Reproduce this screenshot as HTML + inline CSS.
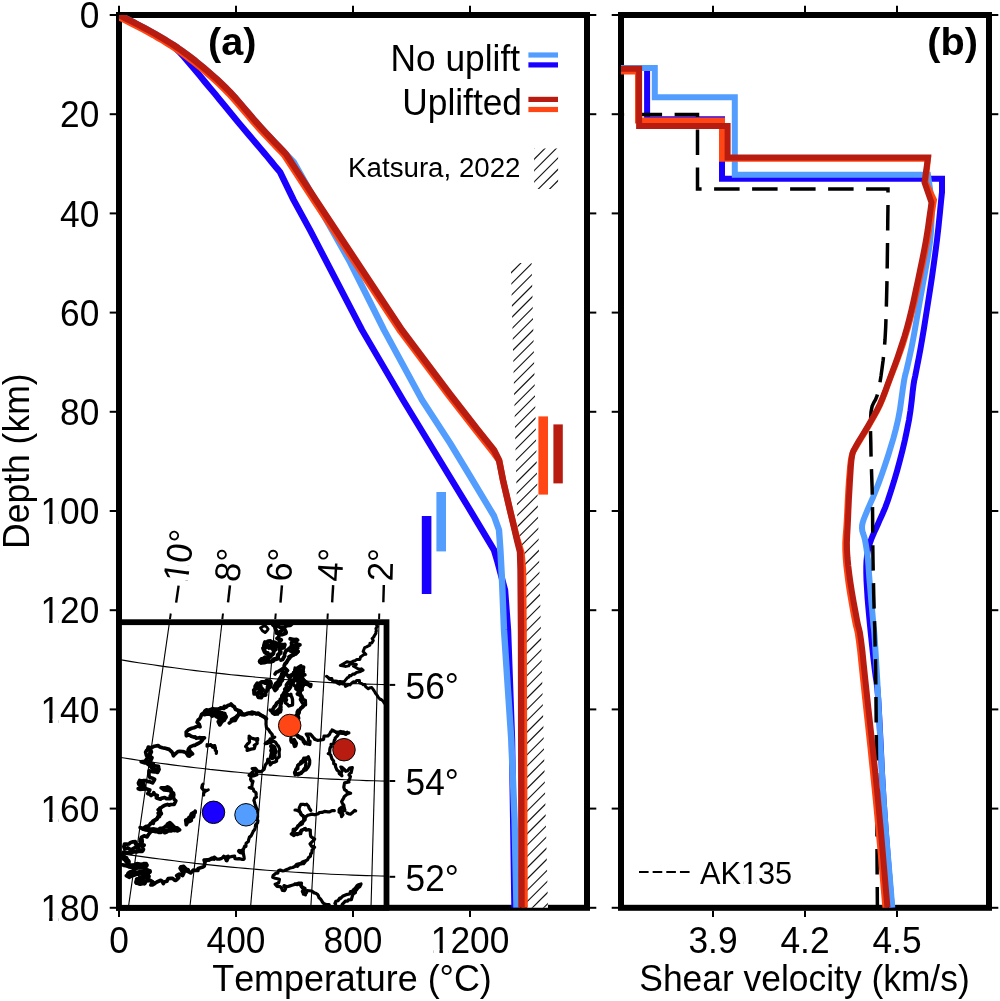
<!DOCTYPE html>
<html><head><meta charset="utf-8"><title>Figure</title>
<style>html,body{margin:0;padding:0;background:#fff;width:1000px;height:1001px;overflow:hidden}body{position:relative;font-family:"Liberation Sans",sans-serif}</style>
</head><body>
<svg width="1000" height="1001" viewBox="0 0 1000 1001" style="position:absolute;left:0;top:0;will-change:transform;font-family:'Liberation Sans',sans-serif">
<rect x="0" y="0" width="1000" height="1001" fill="#fff"/>
<defs>
<clipPath id="ca"><rect x="119.0" y="15.0" width="468.0" height="892.8"/></clipPath>
<clipPath id="cb"><rect x="621.0" y="15.0" width="368.0" height="892.8"/></clipPath>
<clipPath id="cband"><polygon points="510.8,263.0 531.6,263.0 548.0,907.8 527.2,907.8"/></clipPath>
<clipPath id="csw"><rect x="534.1" y="148.5" width="24" height="40.5"/></clipPath>
</defs>
<rect x="119.0" y="15.0" width="468.0" height="892.8" fill="none" stroke="#000" stroke-width="6.0"/>
<rect x="621.0" y="15.0" width="368.0" height="892.8" fill="none" stroke="#000" stroke-width="6.0"/>
<g stroke="#000" stroke-width="2.0">
<line x1="116.0" y1="15.0" x2="109.7" y2="15.0"/>
<line x1="590.0" y1="15.0" x2="596.3" y2="15.0"/>
<line x1="618.0" y1="15.0" x2="611.7" y2="15.0"/>
<line x1="992.0" y1="15.0" x2="998.3" y2="15.0"/>
<line x1="116.0" y1="114.2" x2="109.7" y2="114.2"/>
<line x1="590.0" y1="114.2" x2="596.3" y2="114.2"/>
<line x1="618.0" y1="114.2" x2="611.7" y2="114.2"/>
<line x1="992.0" y1="114.2" x2="998.3" y2="114.2"/>
<line x1="116.0" y1="213.4" x2="109.7" y2="213.4"/>
<line x1="590.0" y1="213.4" x2="596.3" y2="213.4"/>
<line x1="618.0" y1="213.4" x2="611.7" y2="213.4"/>
<line x1="992.0" y1="213.4" x2="998.3" y2="213.4"/>
<line x1="116.0" y1="312.6" x2="109.7" y2="312.6"/>
<line x1="590.0" y1="312.6" x2="596.3" y2="312.6"/>
<line x1="618.0" y1="312.6" x2="611.7" y2="312.6"/>
<line x1="992.0" y1="312.6" x2="998.3" y2="312.6"/>
<line x1="116.0" y1="411.8" x2="109.7" y2="411.8"/>
<line x1="590.0" y1="411.8" x2="596.3" y2="411.8"/>
<line x1="618.0" y1="411.8" x2="611.7" y2="411.8"/>
<line x1="992.0" y1="411.8" x2="998.3" y2="411.8"/>
<line x1="116.0" y1="511.0" x2="109.7" y2="511.0"/>
<line x1="590.0" y1="511.0" x2="596.3" y2="511.0"/>
<line x1="618.0" y1="511.0" x2="611.7" y2="511.0"/>
<line x1="992.0" y1="511.0" x2="998.3" y2="511.0"/>
<line x1="116.0" y1="610.2" x2="109.7" y2="610.2"/>
<line x1="590.0" y1="610.2" x2="596.3" y2="610.2"/>
<line x1="618.0" y1="610.2" x2="611.7" y2="610.2"/>
<line x1="992.0" y1="610.2" x2="998.3" y2="610.2"/>
<line x1="116.0" y1="709.4" x2="109.7" y2="709.4"/>
<line x1="590.0" y1="709.4" x2="596.3" y2="709.4"/>
<line x1="618.0" y1="709.4" x2="611.7" y2="709.4"/>
<line x1="992.0" y1="709.4" x2="998.3" y2="709.4"/>
<line x1="116.0" y1="808.6" x2="109.7" y2="808.6"/>
<line x1="590.0" y1="808.6" x2="596.3" y2="808.6"/>
<line x1="618.0" y1="808.6" x2="611.7" y2="808.6"/>
<line x1="992.0" y1="808.6" x2="998.3" y2="808.6"/>
<line x1="116.0" y1="907.8" x2="109.7" y2="907.8"/>
<line x1="590.0" y1="907.8" x2="596.3" y2="907.8"/>
<line x1="618.0" y1="907.8" x2="611.7" y2="907.8"/>
<line x1="992.0" y1="907.8" x2="998.3" y2="907.8"/>
<line x1="119.0" y1="12.0" x2="119.0" y2="5.7"/>
<line x1="119.0" y1="910.8" x2="119.0" y2="917.1"/>
<line x1="236.0" y1="12.0" x2="236.0" y2="5.7"/>
<line x1="236.0" y1="910.8" x2="236.0" y2="917.1"/>
<line x1="353.0" y1="12.0" x2="353.0" y2="5.7"/>
<line x1="353.0" y1="910.8" x2="353.0" y2="917.1"/>
<line x1="470.0" y1="12.0" x2="470.0" y2="5.7"/>
<line x1="470.0" y1="910.8" x2="470.0" y2="917.1"/>
<line x1="713.0" y1="12.0" x2="713.0" y2="5.7"/>
<line x1="713.0" y1="910.8" x2="713.0" y2="917.1"/>
<line x1="805.0" y1="12.0" x2="805.0" y2="5.7"/>
<line x1="805.0" y1="910.8" x2="805.0" y2="917.1"/>
<line x1="897.0" y1="12.0" x2="897.0" y2="5.7"/>
<line x1="897.0" y1="910.8" x2="897.0" y2="917.1"/>
</g>
<polygon points="510.8,263.0 531.6,263.0 548.0,907.8 527.2,907.8" fill="#fff"/>
<g clip-path="url(#cband)" stroke="#111" stroke-width="1.12" stroke-linecap="butt">
<line x1="503.00" y1="235.65" x2="554.00" y2="184.65"/>
<line x1="503.00" y1="246.97" x2="554.00" y2="195.97"/>
<line x1="503.00" y1="258.28" x2="554.00" y2="207.28"/>
<line x1="503.00" y1="269.60" x2="554.00" y2="218.60"/>
<line x1="503.00" y1="280.91" x2="554.00" y2="229.91"/>
<line x1="503.00" y1="292.22" x2="554.00" y2="241.22"/>
<line x1="503.00" y1="303.54" x2="554.00" y2="252.54"/>
<line x1="503.00" y1="314.85" x2="554.00" y2="263.85"/>
<line x1="503.00" y1="326.16" x2="554.00" y2="275.16"/>
<line x1="503.00" y1="337.48" x2="554.00" y2="286.48"/>
<line x1="503.00" y1="348.79" x2="554.00" y2="297.79"/>
<line x1="503.00" y1="360.11" x2="554.00" y2="309.11"/>
<line x1="503.00" y1="371.42" x2="554.00" y2="320.42"/>
<line x1="503.00" y1="382.73" x2="554.00" y2="331.73"/>
<line x1="503.00" y1="394.05" x2="554.00" y2="343.05"/>
<line x1="503.00" y1="405.36" x2="554.00" y2="354.36"/>
<line x1="503.00" y1="416.67" x2="554.00" y2="365.67"/>
<line x1="503.00" y1="427.99" x2="554.00" y2="376.99"/>
<line x1="503.00" y1="439.30" x2="554.00" y2="388.30"/>
<line x1="503.00" y1="450.62" x2="554.00" y2="399.62"/>
<line x1="503.00" y1="461.93" x2="554.00" y2="410.93"/>
<line x1="503.00" y1="473.24" x2="554.00" y2="422.24"/>
<line x1="503.00" y1="484.56" x2="554.00" y2="433.56"/>
<line x1="503.00" y1="495.87" x2="554.00" y2="444.87"/>
<line x1="503.00" y1="507.18" x2="554.00" y2="456.18"/>
<line x1="503.00" y1="518.50" x2="554.00" y2="467.50"/>
<line x1="503.00" y1="529.81" x2="554.00" y2="478.81"/>
<line x1="503.00" y1="541.12" x2="554.00" y2="490.12"/>
<line x1="503.00" y1="552.44" x2="554.00" y2="501.44"/>
<line x1="503.00" y1="563.75" x2="554.00" y2="512.75"/>
<line x1="503.00" y1="575.07" x2="554.00" y2="524.07"/>
<line x1="503.00" y1="586.38" x2="554.00" y2="535.38"/>
<line x1="503.00" y1="597.69" x2="554.00" y2="546.69"/>
<line x1="503.00" y1="609.01" x2="554.00" y2="558.01"/>
<line x1="503.00" y1="620.32" x2="554.00" y2="569.32"/>
<line x1="503.00" y1="631.63" x2="554.00" y2="580.63"/>
<line x1="503.00" y1="642.95" x2="554.00" y2="591.95"/>
<line x1="503.00" y1="654.26" x2="554.00" y2="603.26"/>
<line x1="503.00" y1="665.58" x2="554.00" y2="614.58"/>
<line x1="503.00" y1="676.89" x2="554.00" y2="625.89"/>
<line x1="503.00" y1="688.20" x2="554.00" y2="637.20"/>
<line x1="503.00" y1="699.52" x2="554.00" y2="648.52"/>
<line x1="503.00" y1="710.83" x2="554.00" y2="659.83"/>
<line x1="503.00" y1="722.14" x2="554.00" y2="671.14"/>
<line x1="503.00" y1="733.46" x2="554.00" y2="682.46"/>
<line x1="503.00" y1="744.77" x2="554.00" y2="693.77"/>
<line x1="503.00" y1="756.09" x2="554.00" y2="705.09"/>
<line x1="503.00" y1="767.40" x2="554.00" y2="716.40"/>
<line x1="503.00" y1="778.71" x2="554.00" y2="727.71"/>
<line x1="503.00" y1="790.03" x2="554.00" y2="739.03"/>
<line x1="503.00" y1="801.34" x2="554.00" y2="750.34"/>
<line x1="503.00" y1="812.65" x2="554.00" y2="761.65"/>
<line x1="503.00" y1="823.97" x2="554.00" y2="772.97"/>
<line x1="503.00" y1="835.28" x2="554.00" y2="784.28"/>
<line x1="503.00" y1="846.60" x2="554.00" y2="795.60"/>
<line x1="503.00" y1="857.91" x2="554.00" y2="806.91"/>
<line x1="503.00" y1="869.22" x2="554.00" y2="818.22"/>
<line x1="503.00" y1="880.54" x2="554.00" y2="829.54"/>
<line x1="503.00" y1="891.85" x2="554.00" y2="840.85"/>
<line x1="503.00" y1="903.16" x2="554.00" y2="852.16"/>
<line x1="503.00" y1="914.48" x2="554.00" y2="863.48"/>
<line x1="503.00" y1="925.79" x2="554.00" y2="874.79"/>
<line x1="503.00" y1="937.10" x2="554.00" y2="886.10"/>
<line x1="503.00" y1="948.42" x2="554.00" y2="897.42"/>
<line x1="503.00" y1="959.73" x2="554.00" y2="908.73"/>
<line x1="503.00" y1="971.05" x2="554.00" y2="920.05"/>
<line x1="503.00" y1="982.36" x2="554.00" y2="931.36"/>
</g>
<g clip-path="url(#csw)" stroke="#111" stroke-width="1.12" stroke-linecap="butt">
<line x1="528.00" y1="131.46" x2="564.00" y2="95.46"/>
<line x1="528.00" y1="142.77" x2="564.00" y2="106.77"/>
<line x1="528.00" y1="154.09" x2="564.00" y2="118.09"/>
<line x1="528.00" y1="165.40" x2="564.00" y2="129.40"/>
<line x1="528.00" y1="176.71" x2="564.00" y2="140.71"/>
<line x1="528.00" y1="188.03" x2="564.00" y2="152.03"/>
<line x1="528.00" y1="199.34" x2="564.00" y2="163.34"/>
<line x1="528.00" y1="210.65" x2="564.00" y2="174.65"/>
<line x1="528.00" y1="221.97" x2="564.00" y2="185.97"/>
<line x1="528.00" y1="233.28" x2="564.00" y2="197.28"/>
<line x1="528.00" y1="244.60" x2="564.00" y2="208.60"/>
</g>
<rect x="538.4" y="416.4" width="9.6" height="78.2" fill="#ff4614"/>
<rect x="553.4" y="424.4" width="9.4" height="59.0" fill="#b81c10"/>
<rect x="436.4" y="492.0" width="9.6" height="59.4" fill="#539dff"/>
<rect x="421.8" y="516.0" width="9.6" height="78.0" fill="#1a00ff"/>
<g clip-path="url(#ca)">
<polyline points="119.0,15.0 122.5,16.9 127.5,19.5 133.4,22.5 139.5,25.8 145.2,28.8 150.0,31.5 153.8,33.7 157.2,35.8 160.2,37.7 162.9,39.5 165.5,41.3 168.0,43.0 170.1,44.4 171.8,45.4 173.2,46.2 174.9,47.5 177.0,49.4 180.0,52.5 184.0,56.9 188.7,62.5 194.0,68.7 199.5,75.3 204.9,81.9 210.0,88.0 214.9,93.8 219.7,99.7 224.5,105.6 229.2,111.3 233.7,116.8 238.0,122.0 242.0,126.8 245.9,131.3 249.5,135.6 253.0,139.8 256.5,143.9 260.0,148.0 263.7,152.4 267.6,157.0 271.4,161.6 274.9,165.9 277.8,169.4 280.0,172.0 293.6,200.0 310.0,230.0 362.0,330.0 403.0,400.0 470.0,510.0 494.0,550.0 497.0,560.0 501.0,575.0 505.0,590.0 508.0,630.0 512.0,740.0 514.5,907.8" fill="none" stroke="#1a00ff" stroke-width="6.40" stroke-linejoin="miter" stroke-linecap="butt" style="stroke-linejoin:round"/>
<polyline points="119.0,15.0 122.4,16.7 127.1,19.1 132.8,21.9 138.7,25.0 144.6,28.1 150.0,31.0 154.9,33.7 159.6,36.5 164.3,39.2 168.9,42.1 173.5,45.0 178.0,48.0 182.4,51.1 186.8,54.3 191.1,57.6 195.4,60.9 199.7,64.4 204.0,68.0 208.3,71.6 212.5,75.3 216.8,79.1 221.0,83.1 225.4,87.4 230.0,92.0 234.8,97.2 239.9,103.0 245.0,109.0 250.2,115.1 255.2,121.0 260.0,126.4 264.8,131.7 269.8,137.0 274.7,142.2 279.1,146.8 282.9,150.7 285.6,153.6 294.0,162.5 350.0,262.0 384.0,330.0 422.0,400.0 450.0,443.0 470.0,476.0 494.0,516.0 499.0,530.0 500.4,550.0 502.0,580.0 504.0,630.0 511.3,740.0 514.6,820.0 516.5,907.8" fill="none" stroke="#539dff" stroke-width="6.40" stroke-linejoin="miter" stroke-linecap="butt" style="stroke-linejoin:round"/>
<polyline points="119.0,15.0 120.9,18.1 125.6,20.5 131.2,23.3 137.2,26.4 143.1,29.5 148.5,32.4 153.4,35.1 158.1,37.9 162.8,40.6 167.4,43.5 172.0,46.4 176.5,49.4 180.9,52.5 185.3,55.7 189.6,59.0 193.9,62.3 198.2,65.8 202.5,69.4 206.8,73.0 211.0,76.7 215.2,80.5 219.5,84.5 223.9,88.8 228.5,93.4 233.3,98.6 238.4,104.4 243.5,110.4 248.7,116.5 253.7,122.4 258.5,127.8 263.3,133.1 268.3,138.4 273.2,143.6 277.6,148.2 281.4,152.1 284.1,155.0 314.5,201.4 400.5,331.4 448.5,395.4 476.5,431.4 492.5,451.4 499.3,461.0 503.0,480.5 510.0,510.5 517.5,540.0 521.5,553.0 523.0,570.0 523.6,630.0 524.6,907.8" fill="none" stroke="#ff4614" stroke-width="6.40" stroke-linejoin="miter" stroke-linecap="butt" style="stroke-linejoin:round"/>
<polyline points="119.0,15.0 122.4,16.7 127.1,19.1 132.8,21.9 138.7,25.0 144.6,28.1 150.0,31.0 154.9,33.7 159.6,36.5 164.3,39.2 168.9,42.1 173.5,45.0 178.0,48.0 182.4,51.1 186.8,54.3 191.1,57.6 195.4,60.9 199.7,64.4 204.0,68.0 208.3,71.6 212.5,75.3 216.8,79.1 221.0,83.1 225.4,87.4 230.0,92.0 234.8,97.2 239.9,103.0 245.0,109.0 250.2,115.1 255.2,121.0 260.0,126.4 264.8,131.7 269.8,137.0 274.7,142.2 279.1,146.8 282.9,150.7 285.6,153.6 316.0,200.0 402.0,330.0 450.0,394.0 478.0,430.0 494.0,450.0 499.0,460.0 503.0,480.0 510.0,510.0 517.0,540.0 520.0,552.0 520.5,570.0 521.0,630.0 521.5,907.8" fill="none" stroke="#b81c10" stroke-width="6.40" stroke-linejoin="miter" stroke-linecap="butt" style="stroke-linejoin:round"/>
</g>
<g clip-path="url(#cb)">
<polyline points="621.0,67.9 647.1,67.9 647.1,119.2 722.0,119.2 722.0,178.8 942.0,178.8 942.0,192.0 941.1,200.6 939.9,212.9 938.5,226.7 937.0,240.0 935.4,252.4 933.7,264.9 931.9,277.5 930.0,290.0 928.0,302.9 925.9,316.1 923.9,328.8 922.0,340.0 920.3,349.7 918.7,358.3 917.2,365.8 916.0,372.0 915.2,376.1 914.7,378.3 914.2,380.6 913.5,385.0 912.6,392.1 911.7,400.8 910.5,410.4 909.0,420.0 907.1,429.6 905.0,439.7 902.6,449.9 900.0,460.0 897.2,470.4 894.1,481.0 890.9,491.1 888.0,500.0 885.3,507.3 882.7,513.5 880.2,518.9 878.0,524.0 876.0,528.6 874.1,532.5 872.5,536.2 871.0,540.0 869.7,543.8 868.6,547.5 867.7,551.4 867.0,556.0 866.5,561.1 866.3,566.5 866.3,572.7 866.5,580.0 867.0,588.6 867.6,598.4 868.5,608.9 869.5,620.0 870.7,632.3 872.1,645.6 873.5,658.7 874.8,670.0 875.8,677.3 876.5,681.9 877.3,688.0 878.3,700.0 879.4,719.9 880.7,745.1 882.0,772.8 883.6,800.0 885.6,828.9 888.0,860.1 890.3,888.2 891.8,907.8" fill="none" stroke="#1a00ff" stroke-width="6.00" stroke-linejoin="miter" stroke-linecap="butt" />
<polyline points="621.0,67.9 654.8,67.9 654.8,97.2 734.8,97.2 734.8,174.8 928.0,174.8 932.0,203.0 931.8,209.6 931.6,218.9 931.1,230.0 930.0,242.0 928.0,255.6 925.3,270.9 922.5,286.3 920.0,300.0 918.0,311.5 916.2,321.9 914.6,331.3 913.0,340.0 911.4,348.2 909.8,355.7 908.3,362.3 907.0,368.0 906.1,371.7 905.5,373.8 904.9,376.3 904.0,381.0 902.8,389.0 901.4,399.1 899.9,409.9 898.0,420.0 895.8,429.3 893.4,438.3 890.7,447.2 888.0,456.0 885.1,464.8 882.1,473.6 879.0,482.1 876.0,490.0 873.0,497.4 869.9,504.4 867.2,510.7 865.0,516.0 863.5,520.0 862.6,522.9 862.1,525.3 862.0,528.0 862.3,530.8 863.1,533.5 864.1,536.4 865.0,540.0 865.8,544.4 866.6,549.5 867.4,554.8 868.0,560.0 868.4,564.5 868.7,568.8 869.0,573.6 869.5,580.0 870.3,589.1 871.2,600.0 872.2,610.9 873.0,620.0 873.5,625.5 873.9,628.8 874.3,632.7 874.8,640.0 875.5,651.2 876.3,665.0 877.3,681.2 878.3,700.0 879.4,722.0 880.6,747.0 882.0,773.5 883.6,800.0 885.7,828.9 888.3,860.1 890.7,888.2 892.3,907.8" fill="none" stroke="#539dff" stroke-width="6.00" stroke-linejoin="miter" stroke-linecap="butt" />
<polyline points="621.0,114.5 697.5,114.5 697.5,189.0 888.0,189.0 888.0,204.0 887.8,218.0 887.6,238.2 887.3,260.3 887.0,280.0 886.6,296.7 886.2,312.5 885.7,327.1 885.0,340.0 884.1,351.1 883.1,360.5 882.0,368.7 881.0,376.0 880.0,382.2 879.1,387.2 878.1,391.7 877.0,396.0 875.5,399.7 873.8,402.6 872.1,406.3 871.0,412.0 870.5,420.6 870.5,431.1 870.8,442.6 871.0,454.0 871.3,464.9 871.7,475.9 872.1,487.4 872.4,500.0 872.6,514.4 872.7,530.1 872.8,545.8 873.0,560.0 873.2,572.3 873.5,583.5 873.7,593.9 874.0,604.0 874.2,613.0 874.5,621.0 874.8,629.5 875.0,640.0 875.2,649.8 875.5,659.3 875.7,674.0 876.0,700.0 876.4,746.4 876.8,807.6 877.1,867.0 877.4,907.8" fill="none" stroke="#000" stroke-width="3.50" stroke-linejoin="miter" stroke-linecap="butt" stroke-dasharray="25.5 12.5" stroke-dashoffset="22.4"/>
<polyline points="621.0,71.6 638.0,71.6 638.0,120.4 722.0,120.4 722.0,158.8 928.0,158.8 925.5,182.0 934.0,200.0 932.8,207.2 931.2,217.5 929.2,229.1 927.3,240.0 925.4,250.0 923.4,260.0 921.3,270.0 919.2,280.0 917.0,290.2 914.7,300.6 912.3,310.6 910.0,320.0 907.7,328.5 905.3,336.2 903.0,343.7 900.5,351.0 897.9,358.3 895.3,365.3 892.6,372.2 890.0,379.0 887.5,385.7 885.1,392.4 882.6,398.8 880.0,405.0 877.1,410.8 874.1,416.4 871.0,421.7 868.0,427.0 864.8,432.4 861.5,437.8 858.5,442.8 856.0,447.0 854.3,449.9 853.2,451.8 852.3,453.8 851.5,457.0 850.7,461.4 850.1,466.6 849.6,472.8 849.0,480.0 848.4,489.0 847.8,499.6 847.3,510.3 846.8,520.0 846.3,528.1 845.7,535.4 845.3,542.5 845.3,550.0 845.7,557.9 846.4,566.1 847.4,574.4 848.5,583.0 849.9,592.4 851.6,602.3 853.3,611.9 854.8,620.0 855.9,625.3 856.8,628.6 857.7,632.6 858.8,640.0 860.2,651.2 861.6,665.0 863.3,681.2 865.3,700.0 867.7,722.0 870.4,747.0 873.1,773.5 875.8,800.0 878.5,828.9 881.3,860.1 883.7,888.2 885.4,907.8" fill="none" stroke="#ff4614" stroke-width="6.00" stroke-linejoin="miter" stroke-linecap="butt" />
<polyline points="621.0,68.7 639.1,68.7 639.1,126.0 727.6,126.0 727.6,157.5 928.0,157.5 924.5,182.5 931.5,202.5 930.6,209.2 929.2,218.8 927.7,229.6 926.0,240.0 924.2,249.8 922.2,259.8 920.1,269.9 918.0,280.0 915.8,290.2 913.6,300.6 911.3,310.7 909.0,320.0 906.8,328.2 904.6,335.8 902.3,342.9 900.0,350.0 897.6,357.2 895.1,364.2 892.5,371.2 890.0,378.0 887.5,384.7 885.1,391.4 882.6,397.8 880.0,404.0 877.1,409.8 874.1,415.4 871.0,420.7 868.0,426.0 864.8,431.4 861.5,436.8 858.4,441.8 856.0,446.0 854.4,448.9 853.4,450.8 852.7,452.8 852.0,456.0 851.4,460.6 850.9,466.1 850.5,472.5 850.0,480.0 849.5,489.1 848.9,499.6 848.4,510.3 848.0,520.0 847.6,528.1 847.2,535.4 846.9,542.5 847.0,550.0 847.5,557.9 848.3,566.1 849.3,574.4 850.5,583.0 852.0,592.4 853.7,602.3 855.5,611.9 857.0,620.0 858.1,625.3 859.0,628.6 859.9,632.6 861.0,640.0 862.4,651.2 863.8,665.0 865.5,681.2 867.5,700.0 869.9,722.0 872.6,747.0 875.4,773.5 878.0,800.0 880.7,828.9 883.4,860.1 885.8,888.2 887.5,907.8" fill="none" stroke="#b81c10" stroke-width="6.00" stroke-linejoin="miter" stroke-linecap="butt" />
</g>
<g>
<rect x="119.0" y="622.2" width="267.5" height="285.6" fill="#fff"/>
<clipPath id="cmap"><rect x="119.0" y="622.2" width="267.5" height="285.6"/></clipPath>
<g clip-path="url(#cmap)">
<line x1="169.50" y1="622.20" x2="128.30" y2="907.80" stroke="#000" stroke-width="1.1"/>
<line x1="222.00" y1="622.20" x2="189.80" y2="907.80" stroke="#000" stroke-width="1.1"/>
<line x1="275.00" y1="622.20" x2="250.50" y2="907.80" stroke="#000" stroke-width="1.1"/>
<line x1="327.30" y1="622.20" x2="310.80" y2="907.80" stroke="#000" stroke-width="1.1"/>
<line x1="379.00" y1="622.20" x2="371.00" y2="907.80" stroke="#000" stroke-width="1.1"/>
<polyline points="110.0,658.0 117.1,659.2 124.2,660.4 131.4,661.6 138.5,662.7 145.6,663.8 152.8,664.8 159.9,665.9 167.0,666.9 174.1,667.8 181.2,668.8 188.4,669.7 195.5,670.6 202.6,671.5 209.8,672.3 216.9,673.1 224.0,673.9 231.1,674.7 238.2,675.4 245.4,676.1 252.5,676.8 259.6,677.5 266.8,678.1 273.9,678.7 281.0,679.3 288.1,679.8 295.2,680.4 302.4,680.8 309.5,681.3 316.6,681.8 323.8,682.2 330.9,682.6 338.0,682.9 345.1,683.3 352.2,683.6 359.4,683.8 366.5,684.1 373.6,684.3 380.8,684.5 387.9,684.7 395.0,684.9" fill="none" stroke="#000" stroke-width="1.1"/>
<polyline points="110.0,755.8 117.1,756.9 124.2,758.0 131.4,759.1 138.5,760.2 145.6,761.2 152.8,762.2 159.9,763.2 167.0,764.1 174.1,765.1 181.2,766.0 188.4,766.9 195.5,767.7 202.6,768.5 209.8,769.4 216.9,770.1 224.0,770.9 231.1,771.6 238.2,772.3 245.4,773.0 252.5,773.6 259.6,774.3 266.8,774.9 273.9,775.4 281.0,776.0 288.1,776.5 295.2,777.0 302.4,777.5 309.5,777.9 316.6,778.3 323.8,778.7 330.9,779.1 338.0,779.4 345.1,779.7 352.2,780.0 359.4,780.3 366.5,780.6 373.6,780.8 380.8,781.0 387.9,781.1 395.0,781.3" fill="none" stroke="#000" stroke-width="1.1"/>
<polyline points="110.0,851.9 117.1,853.0 124.2,854.1 131.4,855.1 138.5,856.1 145.6,857.1 152.8,858.1 159.9,859.0 167.0,859.9 174.1,860.8 181.2,861.7 188.4,862.5 195.5,863.4 202.6,864.1 209.8,864.9 216.9,865.6 224.0,866.4 231.1,867.1 238.2,867.7 245.4,868.4 252.5,869.0 259.6,869.6 266.8,870.2 273.9,870.7 281.0,871.2 288.1,871.7 295.2,872.2 302.4,872.6 309.5,873.1 316.6,873.5 323.8,873.8 330.9,874.2 338.0,874.5 345.1,874.8 352.2,875.1 359.4,875.4 366.5,875.6 373.6,875.8 380.8,876.0 387.9,876.2 395.0,876.3" fill="none" stroke="#000" stroke-width="1.1"/>
<polyline points="260.5,628.0 262.4,626.6 265.3,625.7 267.1,627.5 268.2,629.0 267.1,630.6 266.2,631.7 265.1,632.6 262.8,631.0 262.2,630.6 260.6,627.8" fill="none" stroke="#000" stroke-width="2.83" stroke-linejoin="round" stroke-linecap="round"/>
<polyline points="273.0,625.0 274.9,626.6 276.7,626.4 277.3,625.3 279.6,627.1 281.4,627.2 284.3,627.3 286.1,626.0 287.2,625.6 290.3,625.4 291.6,624.2" fill="none" stroke="#000" stroke-width="3.86" stroke-linejoin="round" stroke-linecap="round"/>
<polyline points="275.0,628.0 275.6,629.3 276.9,631.7 276.5,633.1 279.0,632.7 281.4,630.6 283.9,629.3 284.8,629.5 285.3,630.5 286.1,632.3 286.0,633.1 284.7,633.6 281.9,634.7 279.2,634.9 278.6,637.3 277.0,638.3 278.2,638.9 281.3,639.9 279.6,641.1" fill="none" stroke="#000" stroke-width="3.86" stroke-linejoin="round" stroke-linecap="round"/>
<polyline points="265.0,643.0 266.8,642.6 268.1,641.4 270.4,641.3 272.2,643.0 274.3,642.5 276.8,644.0 278.2,643.6 281.1,644.7 283.6,645.2 284.6,644.8 283.7,647.2 283.9,647.3 279.4,648.5 280.5,652.0 280.2,653.0 278.1,654.8 277.8,656.6 277.9,658.4 275.5,659.2 274.3,659.2 272.8,661.0 270.7,661.6 267.3,661.3 264.2,662.3 261.2,662.7 259.9,661.4 261.7,659.1 263.6,658.8 266.2,658.7 267.6,658.7 270.2,656.3 268.5,655.2 267.7,653.3 267.2,653.9 264.9,652.0 263.2,648.2 265.2,647.6 267.6,646.4 264.1,645.9 265.1,642.3" fill="none" stroke="#000" stroke-width="4.38" stroke-linejoin="round" stroke-linecap="round"/>
<polyline points="269.0,648.0 271.1,647.4 273.1,649.6 275.7,649.4 274.0,650.7 273.4,653.5 272.6,654.5 270.7,654.5" fill="none" stroke="#000" stroke-width="3.86" stroke-linejoin="round" stroke-linecap="round"/>
<polyline points="281.0,660.0 282.6,659.4 283.7,657.6 284.6,656.0 284.5,654.0 285.7,651.6 286.1,650.6 287.5,649.9 289.9,647.9 290.8,647.4 291.9,644.7 291.5,643.0 292.4,641.4 294.7,641.5 296.6,639.5 293.8,639.6 290.2,638.8 294.8,640.0 295.7,640.8 295.9,642.8 297.4,644.2 299.9,644.8 296.8,646.3 295.4,645.4 292.8,646.8 292.8,649.6 293.3,649.3 296.9,648.6 297.7,648.1 296.3,648.7 296.9,651.6 295.1,653.8 293.6,655.0 293.1,655.0 290.8,656.4 289.5,658.2 288.0,659.8 286.3,662.8 285.2,663.4 284.2,665.8" fill="none" stroke="#000" stroke-width="3.86" stroke-linejoin="round" stroke-linecap="round"/>
<polyline points="290.0,651.0 291.8,651.8 294.0,651.1 296.0,650.6 297.9,651.4" fill="none" stroke="#000" stroke-width="3.35" stroke-linejoin="round" stroke-linecap="round"/>
<polyline points="285.0,674.0 283.1,676.6 282.4,677.9 282.4,680.1 280.7,682.0 280.1,684.5 278.3,686.1 277.2,686.9 276.9,688.7 275.1,690.5 273.8,687.9 274.2,686.5 275.0,685.4 275.9,683.6 277.0,682.8 278.4,681.2 279.8,678.5 280.1,678.3 281.6,675.3 281.8,673.9 283.2,671.5 284.2,674.3" fill="none" stroke="#000" stroke-width="3.86" stroke-linejoin="round" stroke-linecap="round"/>
<polyline points="254.0,690.0 255.5,688.8 255.3,686.4 257.3,683.3 259.4,684.2 259.8,683.5 261.8,682.0 265.4,682.1 266.4,680.9 269.0,681.2 270.4,681.7 270.9,683.6 270.1,686.9 267.6,688.2 267.2,690.0 265.2,692.9 265.5,694.9 262.7,695.1 261.1,697.5 258.6,697.3 257.9,695.8 257.1,693.5 254.3,693.8 254.1,690.4" fill="none" stroke="#000" stroke-width="4.12" stroke-linejoin="round" stroke-linecap="round"/>
<polyline points="261.0,686.0 261.2,687.2 263.4,689.9 261.2,692.3 261.3,693.6" fill="none" stroke="#000" stroke-width="3.35" stroke-linejoin="round" stroke-linecap="round"/>
<polyline points="301.0,666.0 298.2,667.7 296.8,669.4 296.2,670.0 295.1,672.8 293.6,672.8 293.1,674.5 291.3,675.9 290.1,677.4 289.8,679.2 289.9,680.8 288.6,682.2 287.5,683.5 286.5,685.1 286.6,687.7 284.8,689.2 285.4,690.1 284.4,692.3 283.0,694.6 282.0,695.6 281.8,698.1 280.3,699.4 280.2,700.7 278.8,701.7 276.8,703.0 275.5,705.8 274.5,706.4 272.7,709.6 272.7,711.3 273.6,712.5 275.6,711.9 277.3,710.9 278.6,709.9 280.9,707.1 280.3,706.1 281.2,703.1 281.5,701.4 283.2,699.8 283.4,698.0 283.9,696.0 284.8,694.6 285.5,692.3 286.8,691.1 288.2,690.1 289.5,688.5 290.4,687.2 290.8,684.4 292.9,682.3 293.4,681.8 293.1,680.6 295.7,678.7 296.4,677.6 296.6,675.4 298.7,674.3 300.6,672.6 301.5,671.4 303.0,669.7 303.5,667.1" fill="none" stroke="#000" stroke-width="3.86" stroke-linejoin="round" stroke-linecap="round"/>
<polyline points="275.0,674.0 276.3,672.2 278.2,671.6 281.1,669.7 283.2,668.3 285.0,668.1 287.6,670.5 286.0,672.1 285.3,673.2 287.4,675.0 288.2,676.6 291.4,674.9 293.5,674.9 294.3,672.4 295.6,671.7 297.5,670.2 298.3,671.2 298.3,673.5 298.1,675.3 296.5,676.4 294.2,678.6 296.8,680.9 298.3,681.6 299.5,679.9 300.9,677.3 303.2,675.4 304.9,674.8" fill="none" stroke="#000" stroke-width="3.61" stroke-linejoin="round" stroke-linecap="round"/>
<polyline points="293.0,684.0 294.1,685.4 297.6,687.9 297.9,688.2 298.4,691.2 299.5,692.2 297.3,694.0 300.4,695.3 301.6,698.0" fill="none" stroke="#000" stroke-width="3.61" stroke-linejoin="round" stroke-linecap="round"/>
<polyline points="256.0,688.0 259.7,687.4 259.5,689.8 261.0,690.1 258.6,692.5 257.9,693.6" fill="none" stroke="#000" stroke-width="4.51" stroke-linejoin="round" stroke-linecap="round"/>
<polyline points="265.0,683.0 266.3,683.2 268.7,684.6 267.6,686.5 268.6,687.3" fill="none" stroke="#000" stroke-width="3.86" stroke-linejoin="round" stroke-linecap="round"/>
<polyline points="267.0,645.0 269.8,645.7 271.8,645.3 272.8,645.8 275.9,646.5 276.7,646.5 278.6,646.1" fill="none" stroke="#000" stroke-width="3.86" stroke-linejoin="round" stroke-linecap="round"/>
<polyline points="265.0,658.0 262.9,660.0 261.9,661.5 260.5,661.6" fill="none" stroke="#000" stroke-width="5.15" stroke-linejoin="round" stroke-linecap="round"/>
<polyline points="295.0,670.0 296.5,670.4 297.8,672.9 300.2,673.6 301.2,674.8 301.2,676.1 300.1,677.1 299.4,679.9 300.5,681.8 300.6,682.1 302.8,683.8 302.9,685.7 301.1,688.5 300.9,689.5" fill="none" stroke="#000" stroke-width="4.12" stroke-linejoin="round" stroke-linecap="round"/>
<polyline points="289.0,657.0 291.3,655.6 293.1,654.8 294.0,653.4 295.8,653.8 298.0,651.5" fill="none" stroke="#000" stroke-width="3.86" stroke-linejoin="round" stroke-linecap="round"/>
<polyline points="287.0,694.0 289.8,695.4 290.9,694.3 291.1,695.9 292.0,697.6 292.5,699.5 292.6,703.2 292.5,704.8 288.8,706.0 287.3,704.2 285.2,702.6 286.6,699.8 285.5,698.2 286.9,695.5 286.6,693.5" fill="none" stroke="#000" stroke-width="3.35" stroke-linejoin="round" stroke-linecap="round"/>
<polyline points="304.0,680.0 302.3,681.9 301.9,684.7 302.7,685.1 302.1,688.4 302.3,689.9 300.2,691.1 300.3,694.8 301.6,696.7 301.9,697.5 300.3,699.3 302.0,702.3 303.8,704.4 302.3,706.5 300.9,708.1 299.5,710.2 299.2,712.1 299.3,712.6 298.0,715.0 298.8,718.4" fill="none" stroke="#000" stroke-width="3.35" stroke-linejoin="round" stroke-linecap="round"/>
<polyline points="205.0,711.0 206.3,709.9 209.0,710.5 210.8,709.5 213.2,708.7 214.6,709.3 217.9,709.3 219.7,708.6 220.5,707.9 223.9,708.4 224.3,706.4 226.3,707.0 227.8,705.5 230.3,704.8 231.0,704.1 232.7,705.8 234.3,706.9 235.6,709.5 237.0,709.9 239.9,711.6 241.1,712.5 241.5,714.5 244.1,714.9 247.0,713.4 249.0,713.3 252.3,713.9 253.8,712.8 256.5,713.9 258.3,713.1 260.2,714.8 263.8,716.7 265.4,717.9 266.3,718.7" fill="none" stroke="#000" stroke-width="3.86" stroke-linejoin="round" stroke-linecap="round"/>
<polyline points="211.0,712.0 212.4,713.2 215.5,711.8 217.3,712.8 218.8,713.0 220.4,712.7 222.6,713.7 224.9,715.3 225.9,717.4" fill="none" stroke="#000" stroke-width="3.86" stroke-linejoin="round" stroke-linecap="round"/>
<polyline points="378.0,622.0 376.7,625.6 377.5,626.6 375.9,628.4 376.4,631.0 375.9,631.7 376.0,633.1 373.8,636.6 374.0,636.8 372.1,638.5 373.3,640.5 371.8,643.1 369.9,643.2 369.9,645.2 366.5,646.9 364.7,647.6 363.1,651.5 365.8,654.3 363.8,654.6 360.5,657.0 359.9,659.4 356.8,659.5 354.9,660.7 353.8,660.9 351.6,662.1 349.6,662.4 347.2,661.7 344.7,663.0 343.5,663.7 340.4,665.5 342.5,665.7 343.8,666.1 346.0,666.4 348.7,665.9 350.1,663.7 352.2,664.0 356.4,664.4 353.5,666.3 357.2,668.3 359.5,669.4 361.3,668.8 363.1,670.1 360.9,671.3 359.5,671.9 356.5,672.5 354.3,674.2 353.1,673.9 350.8,675.9 349.5,675.5 348.6,677.3 347.4,677.7 345.0,680.6 344.1,681.8 341.1,681.6 339.3,681.4 338.9,682.2 337.2,681.3 335.4,680.9 332.5,681.0 331.8,678.5 329.2,678.2 326.5,676.3 327.8,677.2 329.5,679.2 332.3,679.9 333.1,681.7 336.0,682.1 337.0,682.8 339.6,684.1 340.2,683.2 342.8,684.1 344.8,684.2 345.4,686.4 348.8,684.6 350.1,684.9 351.6,683.1 353.2,681.8 355.7,681.9 356.7,680.4 359.4,680.4 359.6,682.8 361.9,683.6 363.3,684.7 364.9,684.4 365.6,686.6 368.3,688.8 369.2,688.0 371.8,687.5 373.3,689.6 375.0,692.3 375.3,693.0 377.6,695.9 377.4,696.3 380.3,699.4 381.0,699.2 383.1,701.3 384.3,703.2 385.9,703.4 387.5,704.5" fill="none" stroke="#000" stroke-width="2.99" stroke-linejoin="round" stroke-linecap="round"/>
<polyline points="295.0,641.0 297.8,640.2" fill="none" stroke="#000" stroke-width="3.45" stroke-linejoin="round" stroke-linecap="round"/>
<polyline points="295.0,647.0 297.6,645.9 298.5,645.8" fill="none" stroke="#000" stroke-width="3.45" stroke-linejoin="round" stroke-linecap="round"/>
<polyline points="295.0,653.0 298.0,651.8" fill="none" stroke="#000" stroke-width="3.45" stroke-linejoin="round" stroke-linecap="round"/>
<polyline points="297.0,674.0 298.3,671.5 301.9,672.3 303.1,671.1 303.5,671.6 302.6,673.3 301.2,677.1 302.7,678.1 303.8,680.2 305.9,681.8 307.9,682.9 308.6,684.2 311.0,684.5 310.5,686.5 308.3,684.9 306.6,684.3 304.3,684.4 302.2,683.6 301.0,682.1 300.3,683.7 299.4,686.5 298.5,687.2 298.0,689.8 299.9,691.3 300.7,694.9 301.9,696.1 302.4,697.9 303.7,699.9 305.3,700.4 305.5,704.8 303.2,705.2 303.5,706.4 302.3,707.6 300.6,708.3 299.0,711.8 297.4,712.5 297.0,714.7 295.1,716.4" fill="none" stroke="#000" stroke-width="3.45" stroke-linejoin="round" stroke-linecap="round"/>
<polyline points="295.0,668.0 296.4,668.3 299.3,667.8 300.4,669.5" fill="none" stroke="#000" stroke-width="3.22" stroke-linejoin="round" stroke-linecap="round"/>
<polyline points="296.0,678.0 296.3,680.1 298.3,681.7 297.7,684.1 296.2,686.7 295.7,688.9 297.2,689.8" fill="none" stroke="#000" stroke-width="3.22" stroke-linejoin="round" stroke-linecap="round"/>
<polyline points="215.0,713.0 213.1,712.1 210.9,712.1 207.2,712.8 204.9,711.9 203.5,712.9 201.6,714.5 200.3,717.9 199.2,719.3 198.1,720.1 197.1,722.3 199.2,724.4 200.0,726.8 197.6,726.1 197.0,726.4 194.1,727.7 191.8,728.2 189.5,729.2 188.2,729.9 186.2,732.0 186.3,735.8 189.0,734.8 191.2,736.3 194.4,737.2 195.1,736.9 196.1,738.3 199.1,737.7 201.3,737.9 203.8,737.9 204.5,737.8 203.1,738.6 202.8,739.5 200.7,742.0 199.1,743.1 199.2,743.0 196.1,744.5 195.0,745.3 193.6,745.4 190.6,746.6 188.6,748.7 188.5,749.4 188.1,751.2 190.5,751.9 192.5,753.9 190.5,754.8 189.5,756.1 188.2,756.0 187.4,754.7 185.9,752.6 184.1,751.9 182.5,751.5 179.6,751.3 177.9,751.5 176.7,752.6 174.5,754.5 173.5,755.8 172.5,753.2 171.7,751.7 170.5,750.8 169.2,749.4 167.3,748.9 164.4,748.1 162.4,747.7 159.9,746.9 158.1,745.6 154.5,746.2 151.2,747.8 148.3,747.1 147.3,750.3 146.7,750.3 145.6,752.1 146.4,755.3 147.4,756.9 147.2,758.2 145.7,760.6 144.6,761.2 141.2,761.7 144.3,762.8 144.3,762.4 146.3,763.1 149.7,765.6 151.3,766.1 153.2,765.6 154.7,765.7 158.5,766.4 158.7,768.4 159.1,769.5 157.6,772.4 155.7,771.7 154.9,772.0 152.7,771.7 149.1,770.8 148.9,774.5 149.2,776.4 150.1,777.5 152.7,778.2 154.6,779.4 154.1,780.4 152.5,782.9 149.1,781.5 148.0,781.6 145.4,780.5 143.7,780.6 141.5,781.3 139.6,780.5 138.4,783.0 138.8,784.3 140.2,785.5 140.4,788.5 138.2,788.7 139.8,789.3 142.7,789.2 144.7,788.6 145.4,788.6 149.8,790.0 147.8,793.7 149.0,793.9 151.1,795.5 153.0,794.3 153.7,792.7 154.8,794.7 157.3,795.5 156.4,797.9 160.5,799.2 161.3,798.4 164.7,797.5 166.4,798.6 170.4,798.7 170.3,795.8 171.5,794.7 171.0,791.4 169.2,790.4 168.9,790.4 164.2,789.9 161.2,787.8 165.9,787.6 167.4,786.9 168.4,787.3 169.3,787.9 170.8,789.1 171.8,792.1 173.4,793.0 173.8,794.9 173.3,797.2 174.3,799.5 175.8,800.9 174.1,804.5 170.9,804.5 169.4,805.2 167.5,804.4 164.7,805.3 162.8,806.4 160.6,808.2 158.2,809.8 160.5,812.4" fill="none" stroke="#000" stroke-width="3.68" stroke-linejoin="round" stroke-linecap="round"/>
<polyline points="149.0,749.0 150.2,750.0 150.9,751.9 150.2,753.3 149.3,755.8 149.4,756.8 151.5,757.8 150.0,760.9 148.1,762.1 149.9,763.5 152.8,764.0" fill="none" stroke="#000" stroke-width="4.60" stroke-linejoin="round" stroke-linecap="round"/>
<polyline points="151.0,767.0 152.2,768.1 155.1,769.4 157.0,770.3" fill="none" stroke="#000" stroke-width="4.02" stroke-linejoin="round" stroke-linecap="round"/>
<polyline points="141.0,782.0 143.1,783.5 143.8,785.9 144.4,788.4" fill="none" stroke="#000" stroke-width="4.60" stroke-linejoin="round" stroke-linecap="round"/>
<polyline points="189.0,750.0 189.8,752.0 190.3,753.9" fill="none" stroke="#000" stroke-width="4.60" stroke-linejoin="round" stroke-linecap="round"/>
<polyline points="203.0,784.0 202.2,785.2 201.6,787.8 203.1,789.8 206.8,790.4 204.7,791.6 203.5,794.0 203.8,795.1" fill="none" stroke="#000" stroke-width="2.99" stroke-linejoin="round" stroke-linecap="round"/>
<polyline points="207.0,744.5 208.5,745.3 210.8,744.5 212.3,747.0 215.6,748.3" fill="none" stroke="#000" stroke-width="2.99" stroke-linejoin="round" stroke-linecap="round"/>
<polyline points="205.0,714.0 207.4,713.6 209.5,713.9 212.2,712.8 215.6,712.6 217.4,712.1 220.1,712.3 222.6,713.2 224.7,713.6 224.8,715.0 225.9,716.4 224.1,720.4 223.1,720.5 221.6,722.0 219.9,724.8 218.3,721.7 219.8,721.2 219.2,719.6 219.3,718.0 216.3,716.6 215.3,714.6 212.1,715.9 210.8,714.3 207.2,713.8 204.5,714.5" fill="none" stroke="#000" stroke-width="3.91" stroke-linejoin="round" stroke-linecap="round"/>
<polyline points="215.0,714.0 216.7,714.0 219.8,715.9 220.4,716.7 222.2,718.0 223.3,719.7" fill="none" stroke="#000" stroke-width="4.60" stroke-linejoin="round" stroke-linecap="round"/>
<polyline points="229.0,723.0 231.0,721.6 231.4,719.4 234.1,718.0 235.9,716.7 238.1,714.6 239.5,713.3 241.0,711.2 238.9,710.3 238.7,713.0 238.4,715.7 237.1,717.6 236.4,718.6 235.3,720.6 232.8,720.8 231.9,721.2 229.3,723.3" fill="none" stroke="#000" stroke-width="3.22" stroke-linejoin="round" stroke-linecap="round"/>
<polyline points="241.0,712.0 242.1,713.2 245.3,714.8 246.7,714.4 249.0,713.0 252.3,711.9 254.4,712.7 255.7,713.7 257.7,713.5 260.0,715.0 261.5,715.4 264.9,717.1 265.9,719.1 266.1,721.8 266.0,724.1 266.5,727.9 268.0,729.1 268.7,729.7 270.1,732.2 272.3,734.5 272.1,735.9 274.7,737.1 272.1,738.6 270.1,738.9 269.8,740.2 267.8,741.5 266.8,742.2 265.2,743.7 267.4,743.4 269.3,742.5 271.3,742.4 273.5,741.2 275.4,742.1 277.5,745.3 278.3,745.8 279.4,748.5 279.6,749.5 279.1,751.9 279.2,753.9 279.3,756.8 277.7,758.1 276.4,758.8 276.6,761.1 275.3,761.9 272.1,762.8 270.2,764.8 269.9,762.0 267.8,759.2 267.3,762.5 265.3,765.1 264.1,769.3 262.3,770.9 260.2,771.7 257.3,771.1 256.9,770.0 255.4,768.4 252.1,768.5 254.4,770.2 255.4,770.2 256.2,772.9 256.9,774.8 253.5,775.9 252.4,772.1 249.1,775.3 251.1,776.2 250.6,779.4 251.4,781.2 253.0,781.2 252.2,784.1 251.9,786.3 249.3,787.6 251.2,788.3 253.2,788.8 253.8,791.0 255.8,792.5 256.1,793.1 256.2,795.9 256.4,797.1 254.7,798.2 253.9,800.6 254.2,801.1 254.9,803.7 255.8,806.4 256.7,808.8 257.6,809.6 256.2,812.0 257.1,815.2" fill="none" stroke="#000" stroke-width="3.22" stroke-linejoin="round" stroke-linecap="round"/>
<polygon points="271.0,746.0 272.1,748.7 271.1,750.6 272.3,752.7 271.6,753.6 270.7,757.6 272.4,758.3 273.7,757.2 274.6,756.6 274.4,754.5 275.8,751.5 275.2,750.3 274.4,747.4 273.5,746.5 271.6,745.9" fill="#000" stroke="#000" stroke-width="4.02" stroke-linejoin="round" stroke-linecap="round"/>
<polyline points="273.0,748.0 272.3,750.6 273.8,751.5 273.5,754.8 274.2,756.0" fill="none" stroke="#000" stroke-width="4.60" stroke-linejoin="round" stroke-linecap="round"/>
<polygon points="250.0,737.0 251.5,738.2 252.4,738.4 254.9,739.1 257.7,738.6 257.6,740.3 256.8,741.1 257.2,743.3 254.3,745.3 255.0,746.3 254.2,748.7 251.0,749.1 247.1,750.4 247.4,748.2 245.6,746.5 247.5,743.9 248.8,743.0 249.6,741.9 249.0,738.1 249.4,736.4 249.2,736.1" fill="none" stroke="#000" stroke-width="3.22" stroke-linejoin="round" stroke-linecap="round"/>
<polyline points="207.0,746.0 210.1,745.2 212.9,745.8 214.8,745.7 215.2,747.8 215.3,750.4 216.5,751.1 216.3,753.4" fill="none" stroke="#000" stroke-width="3.22" stroke-linejoin="round" stroke-linecap="round"/>
<polyline points="205.0,791.0 208.3,789.8" fill="none" stroke="#000" stroke-width="2.99" stroke-linejoin="round" stroke-linecap="round"/>
<polyline points="295.0,772.0 295.9,769.4 297.9,768.9 298.0,765.1 299.5,763.7 302.3,762.8 303.6,759.1 305.5,758.4 306.3,759.9 305.0,760.3 306.1,763.8 305.7,764.6 305.4,767.5 304.3,768.7 303.5,769.8 303.0,771.4 301.0,772.3 300.3,773.1 298.4,773.4 295.1,774.8 294.5,772.8" fill="none" stroke="#000" stroke-width="3.22" stroke-linejoin="round" stroke-linecap="round"/>
<polyline points="270.0,710.0 272.2,712.2 272.3,712.9 274.2,714.3 277.7,714.2 278.4,712.7 280.6,712.0 281.2,709.3" fill="none" stroke="#000" stroke-width="3.22" stroke-linejoin="round" stroke-linecap="round"/>
<polyline points="298.0,710.0 297.0,711.7 297.4,715.1" fill="none" stroke="#000" stroke-width="2.99" stroke-linejoin="round" stroke-linecap="round"/>
<polyline points="297.0,735.0 297.7,737.0 299.2,737.5 300.3,738.6 303.0,740.0 303.0,741.6 304.7,743.8" fill="none" stroke="#000" stroke-width="2.99" stroke-linejoin="round" stroke-linecap="round"/>
<polyline points="291.0,738.0 290.9,740.6 291.5,742.1 293.3,742.5 294.0,744.6 294.5,746.4 295.7,745.9 296.4,743.3 294.2,739.6" fill="none" stroke="#000" stroke-width="3.45" stroke-linejoin="round" stroke-linecap="round"/>
<polyline points="295.0,735.0 297.8,735.2 299.4,736.6 301.9,737.6 303.6,739.7 303.8,740.6 306.6,743.1 306.9,743.9 309.8,744.5 310.1,741.3 308.4,740.5 308.4,737.4 306.2,734.2 310.2,734.0 311.1,734.9 313.2,737.4 314.6,738.7 314.4,739.2 317.4,740.3 319.4,740.2 322.6,739.7 323.6,739.2 324.0,736.1 327.8,736.0 329.2,734.6 329.4,734.6 330.7,731.9 331.8,731.2 332.1,730.0 334.9,731.5 336.3,732.4 339.6,733.2 340.7,733.2 342.8,733.5 344.7,733.7 348.9,733.0" fill="none" stroke="#000" stroke-width="3.22" stroke-linejoin="round" stroke-linecap="round"/>
<polyline points="337.0,732.5 338.9,732.7 340.7,731.9 343.4,732.5 343.7,732.4 345.7,733.9 347.1,732.7" fill="none" stroke="#000" stroke-width="4.14" stroke-linejoin="round" stroke-linecap="round"/>
<polyline points="338.0,735.0 337.4,735.9 335.1,738.2 335.1,739.5 334.4,740.2 333.7,743.4 331.1,744.3 331.3,746.7 330.2,747.6 329.8,749.3 329.7,752.4 328.3,753.6 330.5,754.6 331.6,757.8 331.8,758.8 333.6,761.0 333.8,763.8 335.5,764.7 335.5,766.7 336.9,769.9 338.6,771.3 339.6,772.7 339.2,773.5 341.9,775.8 341.0,772.9 342.3,770.7 341.6,768.2 340.9,767.0 342.1,767.3 344.9,770.0 345.8,771.3 347.6,770.7 349.7,768.1 352.3,767.6 351.8,769.6 351.1,772.8 350.2,773.0 349.0,774.9 350.4,776.6 349.6,779.3 348.3,780.7 348.9,782.0 344.6,782.9 344.1,785.3 343.8,787.3 344.6,789.8 346.1,790.5 347.2,792.1 350.6,793.2 347.1,794.3 344.4,796.4 343.9,797.6 343.2,798.9 341.6,801.5 342.5,803.5 343.8,805.2 344.1,807.7 344.7,809.5 342.1,812.0" fill="none" stroke="#000" stroke-width="3.22" stroke-linejoin="round" stroke-linecap="round"/>
<polyline points="295.0,772.0 295.6,770.9 296.6,768.5 297.9,765.2 300.7,763.9 300.7,761.8 302.9,760.4 303.8,758.2 306.9,758.0 308.3,756.7 309.7,760.3 309.7,762.7 309.6,764.0 308.5,766.5 307.5,768.0 306.0,769.9 304.8,770.3 303.2,771.1 301.5,773.2 298.0,774.9 295.1,772.8 295.5,772.7" fill="none" stroke="#000" stroke-width="3.22" stroke-linejoin="round" stroke-linecap="round"/>
<polyline points="160.0,808.0 160.2,809.8 160.4,811.9 161.4,813.6 159.3,815.6 157.8,816.7 157.0,819.2 155.0,819.9 152.9,821.1 151.3,823.1 150.7,823.2 149.8,824.7 147.7,826.6 145.9,826.4 142.9,828.5 140.1,827.6 143.1,829.0 145.8,830.0 147.6,830.2 150.0,829.0 152.9,829.0 154.7,829.7 156.7,830.1 159.3,829.0 160.2,828.3 162.8,828.1 164.6,827.2 166.9,825.0 167.4,824.2 169.9,822.7 172.1,824.6 172.4,825.2 174.9,827.6 177.0,827.8 179.7,829.9 177.6,830.9 175.7,830.3 172.3,830.4 171.0,831.0 168.4,830.6 167.2,831.7 164.7,832.7 163.3,831.1 160.8,832.5 158.6,832.4 156.1,831.4 155.7,831.7 153.3,830.9 151.0,831.6 148.6,834.3 147.1,836.9 144.1,835.8 141.3,837.3 142.0,839.3 140.2,841.4 142.0,844.1 143.2,845.6 144.2,845.1 142.5,846.7 140.4,845.7 137.4,844.6 135.7,844.3 135.2,841.7 132.9,841.8 130.2,842.7 129.2,843.9 126.9,844.2 124.5,844.1 123.8,846.7 124.6,848.8 128.1,847.9 130.2,849.4 132.5,849.1 134.5,847.8 137.9,848.0 139.6,849.7 142.0,850.1 143.5,849.4 142.7,850.9 141.9,851.4 139.1,851.3 136.6,852.0 133.8,851.7 130.8,853.4 128.7,852.5 125.9,852.6 123.5,852.1 122.3,854.2 122.8,856.1 124.2,856.6 126.6,857.8 126.9,860.6 128.6,860.9 128.7,863.4 125.8,865.4 122.4,864.9 124.0,865.5 125.9,865.8 128.4,866.5 130.8,866.7 131.7,865.5 134.2,864.7 136.7,863.8 138.5,864.3 140.6,864.5 143.3,864.3 146.1,863.6 146.8,864.7 144.4,866.9 142.7,867.3 140.3,867.6 138.7,868.0 136.6,868.2 134.6,869.5 132.3,871.4 130.6,871.8 130.3,873.5 128.7,874.7 126.3,875.6 129.1,877.3 132.3,875.7 133.8,875.3 136.4,873.5 138.7,872.7 139.9,871.7 140.6,872.5 143.4,871.4 144.6,869.9 147.4,869.9 149.6,871.8 148.1,873.1 148.3,874.4 146.6,875.6 144.4,875.5 141.9,877.4 139.7,877.1 139.1,879.5 136.6,879.1 136.7,883.2 138.1,883.5 140.3,884.1 142.4,883.8 145.0,881.2 146.4,880.8 149.5,880.6 150.1,880.2 152.8,881.9 150.8,884.9 152.5,884.9 154.2,883.9 154.7,883.4 156.9,882.0 160.8,880.3 162.0,881.1 163.4,883.6 164.0,882.1 166.9,881.3 167.6,879.5 168.2,878.7 170.8,878.4 172.6,878.3 174.9,880.3 175.5,880.5 177.0,879.4 178.8,877.7 176.6,875.7 179.3,874.1 182.7,875.6 184.1,872.5 181.9,871.3 181.2,869.9 180.5,868.1 181.3,866.8 183.7,866.4 184.7,867.6 186.4,869.4 187.9,871.3 190.7,872.9 192.2,871.4 193.2,870.1 197.9,870.5 198.2,868.4 202.9,867.1 204.3,866.0 204.9,862.4 204.1,860.1 207.8,859.8 209.2,860.1 211.3,858.5 212.5,858.1 214.1,859.0" fill="none" stroke="#000" stroke-width="3.68" stroke-linejoin="round" stroke-linecap="round"/>
<polyline points="143.0,829.2 145.4,828.8 146.0,829.5 149.0,830.1 149.5,829.9 152.5,829.8 153.3,828.8 156.1,829.1 157.0,829.6 158.8,830.1 160.3,828.7 162.7,829.8 164.9,830.0 166.9,830.5 167.9,829.7 169.0,829.3 171.6,828.9 173.6,829.1 174.9,830.7" fill="none" stroke="#000" stroke-width="2.99" stroke-linejoin="round" stroke-linecap="round"/>
<polyline points="167.0,826.5 168.7,825.6 171.9,825.9 171.4,828.1" fill="none" stroke="#000" stroke-width="4.14" stroke-linejoin="round" stroke-linecap="round"/>
<polyline points="158.0,813.0 159.6,816.7 158.3,817.3 156.2,819.1 155.4,820.1 153.9,821.5 153.3,823.6" fill="none" stroke="#000" stroke-width="3.45" stroke-linejoin="round" stroke-linecap="round"/>
<polyline points="140.5,839.5 142.0,841.1 141.6,843.9" fill="none" stroke="#000" stroke-width="4.14" stroke-linejoin="round" stroke-linecap="round"/>
<polyline points="124.0,858.0 125.5,859.0 126.1,859.9 127.7,861.9" fill="none" stroke="#000" stroke-width="5.75" stroke-linejoin="round" stroke-linecap="round"/>
<polyline points="130.0,866.0 132.7,866.6 134.2,866.6 136.2,865.8 137.7,864.6 139.2,865.5 140.3,865.3 143.3,865.0 144.5,864.6 145.7,865.5" fill="none" stroke="#000" stroke-width="5.75" stroke-linejoin="round" stroke-linecap="round"/>
<polyline points="129.0,874.0 129.9,873.2 133.0,873.5 133.7,873.8 136.0,873.4 137.9,873.1 140.0,872.7 141.0,872.1 144.3,872.6 144.6,873.1 146.7,871.4 149.1,871.5" fill="none" stroke="#000" stroke-width="5.75" stroke-linejoin="round" stroke-linecap="round"/>
<polyline points="138.0,880.0 139.6,879.4 140.8,878.8 142.3,878.0 144.8,876.5 146.2,875.9 147.9,876.7" fill="none" stroke="#000" stroke-width="5.75" stroke-linejoin="round" stroke-linecap="round"/>
<polyline points="137.0,882.0 139.1,882.4 141.5,881.3 143.9,882.4 144.2,882.6" fill="none" stroke="#000" stroke-width="5.75" stroke-linejoin="round" stroke-linecap="round"/>
<polyline points="181.0,868.0 182.8,868.4 185.9,870.1 187.5,870.3" fill="none" stroke="#000" stroke-width="5.17" stroke-linejoin="round" stroke-linecap="round"/>
<polygon points="195.0,812.0 194.0,812.2 191.5,813.8 190.1,817.2 189.0,817.6 188.4,818.9 185.7,820.2 186.0,822.1 186.3,824.7 187.4,822.5 189.2,821.5 191.3,820.6 191.3,817.8 193.5,816.9 194.4,813.1 195.2,811.2 195.1,812.6" fill="#000" stroke="#000" stroke-width="3.68" stroke-linejoin="round" stroke-linecap="round"/>
<polyline points="205.0,861.0 206.3,860.8 209.3,859.3 210.4,859.4 213.6,858.9 214.3,857.1 216.8,859.1 219.4,859.1 221.6,858.4 223.8,856.3 225.7,858.6 226.4,860.6 228.4,858.1 228.7,857.3 231.0,856.7 234.6,856.1 234.9,858.6 237.3,858.8 239.0,858.6 241.7,859.3 243.7,859.5 244.2,858.7 244.0,856.7 243.4,853.6 241.4,852.7 239.9,851.1 241.8,850.2 243.1,850.2 244.7,846.1 245.9,846.4 246.1,843.3 248.3,841.6 248.6,840.0 249.5,837.1 251.1,835.9 252.9,832.1 253.1,831.5 254.7,829.5 255.3,827.3 255.7,824.6 257.6,822.7 257.9,820.6 256.7,819.0 257.6,816.8 257.5,814.7 257.2,812.3 256.2,809.7" fill="none" stroke="#000" stroke-width="3.22" stroke-linejoin="round" stroke-linecap="round"/>
<polyline points="224.0,857.0 225.7,857.9 228.0,856.7 227.0,858.5 226.7,860.3" fill="none" stroke="#000" stroke-width="4.14" stroke-linejoin="round" stroke-linecap="round"/>
<polyline points="239.0,851.0 240.1,852.2 242.9,851.9" fill="none" stroke="#000" stroke-width="4.14" stroke-linejoin="round" stroke-linecap="round"/>
<polyline points="305.0,820.0 303.6,821.1 301.4,822.2 299.6,824.1 298.4,826.1 297.5,827.0 296.1,828.8 293.2,829.4 292.9,832.7 291.2,834.0 293.9,835.7 296.2,833.5 300.8,833.6 301.5,830.6 302.9,829.8 305.4,828.5" fill="none" stroke="#000" stroke-width="3.22" stroke-linejoin="round" stroke-linecap="round"/>
<polyline points="299.0,810.0 299.8,811.4 301.2,814.7 302.8,815.4 304.4,818.9 305.2,818.2" fill="none" stroke="#000" stroke-width="3.22" stroke-linejoin="round" stroke-linecap="round"/>
<polyline points="305.0,862.0 303.6,863.7 300.7,863.3 298.4,865.1 297.7,866.3 295.8,866.0 292.7,867.5 290.3,867.8 288.8,868.7 286.2,869.8 284.1,870.7 282.7,871.0 280.2,870.0 278.4,870.8 277.8,873.1 275.9,873.2 273.2,875.4 272.7,877.2 275.3,878.3 279.5,879.2 278.6,882.9 275.1,884.2 277.1,886.3 280.2,886.7 281.5,888.0 282.4,890.5 284.5,890.6 285.5,888.9 283.9,885.6 287.0,886.8 289.3,886.1 292.0,885.3 295.5,884.2 298.9,883.0 301.5,883.2 301.1,884.8 302.2,887.0 305.1,888.4 304.8,890.2 302.3,891.4 305.5,894.8" fill="none" stroke="#000" stroke-width="3.22" stroke-linejoin="round" stroke-linecap="round"/>
<polyline points="295.0,810.0 296.4,810.1 299.5,811.5 300.9,813.5 301.3,814.7 303.1,815.9 303.7,817.8 306.3,816.4 307.7,815.3 309.8,814.7 311.7,814.1 314.8,814.8 318.3,813.7 319.5,812.5 322.0,812.4 324.5,811.4 328.0,811.8 329.6,811.9 332.0,810.6 334.3,810.7" fill="none" stroke="#000" stroke-width="3.22" stroke-linejoin="round" stroke-linecap="round"/>
<polyline points="339.0,812.0 340.7,813.2 341.5,815.9 341.6,816.7 343.0,814.7 341.4,812.3 341.2,809.9" fill="none" stroke="#000" stroke-width="3.22" stroke-linejoin="round" stroke-linecap="round"/>
<polyline points="347.0,813.0 349.2,814.0 350.4,814.2 352.2,812.8 354.7,810.4 355.7,810.9" fill="none" stroke="#000" stroke-width="3.22" stroke-linejoin="round" stroke-linecap="round"/>
<polyline points="305.0,819.0 303.6,820.1 302.3,823.9 300.6,824.8 299.3,825.4 297.7,825.9 297.3,827.2 294.7,830.8" fill="none" stroke="#000" stroke-width="3.22" stroke-linejoin="round" stroke-linecap="round"/>
<polyline points="295.0,834.0 297.4,834.7 299.9,833.1 299.5,833.1 301.4,830.1 303.0,829.7 304.9,828.7 306.1,830.2 308.7,829.7 310.3,830.0 310.3,831.9 310.4,834.4 310.8,836.5 312.0,837.3 314.7,839.0 313.3,840.7 310.0,843.9 311.7,846.4 313.6,846.4 314.6,847.2 312.1,850.0 311.8,853.1 310.7,853.6 310.4,856.3 308.6,857.6 307.4,859.9 305.7,860.9 302.8,861.7 300.8,863.9 298.8,863.8 296.8,864.3 295.9,865.1" fill="none" stroke="#000" stroke-width="3.22" stroke-linejoin="round" stroke-linecap="round"/>
<polyline points="295.0,884.0 297.2,884.6 298.5,883.7 300.8,885.5 301.4,886.8 303.7,889.5 302.8,891.1 303.4,894.2 306.3,893.1 306.6,892.4 307.1,890.5 311.7,891.0 314.2,892.9 315.5,893.2 317.5,894.3 318.4,895.8 319.0,897.7 320.3,898.7 321.7,900.6 322.5,902.2 324.1,903.8 325.9,904.4 329.0,904.5 329.5,906.1 331.8,909.1" fill="none" stroke="#000" stroke-width="3.22" stroke-linejoin="round" stroke-linecap="round"/>
<polyline points="335.0,909.0 335.0,906.8 335.6,904.0 334.9,903.4 335.9,901.3 338.1,900.7 339.7,898.1 340.3,898.6 342.6,896.3 344.3,895.5 346.2,894.7 349.6,894.0 350.4,891.7 351.8,891.9 353.9,889.4 355.0,888.6 357.0,885.8 358.3,884.7 361.0,884.0 359.8,886.7 358.3,887.6 356.4,890.1 355.2,890.9 355.4,892.6 353.2,894.0 352.6,895.2 351.3,899.7 348.4,899.9 347.6,901.2 345.3,901.1 343.9,902.7 342.4,904.1 341.3,907.0 341.6,908.7" fill="none" stroke="#000" stroke-width="3.22" stroke-linejoin="round" stroke-linecap="round"/>
<polyline points="299.0,810.0 299.3,807.6 300.8,804.4 303.9,804.4 304.8,804.8 306.7,804.2 308.5,806.3 309.0,808.0 310.8,810.5" fill="none" stroke="#000" stroke-width="3.22" stroke-linejoin="round" stroke-linecap="round"/>
<polyline points="339.0,810.0 339.6,808.7 341.9,806.9 344.1,808.3 344.9,810.7" fill="none" stroke="#000" stroke-width="3.22" stroke-linejoin="round" stroke-linecap="round"/>
</g>
<circle cx="213.5" cy="812.3" r="11.25" fill="#1a00ff" stroke="#000" stroke-width="1.0"/>
<circle cx="246.0" cy="814.8" r="11.25" fill="#539dff" stroke="#000" stroke-width="1.0"/>
<circle cx="289.7" cy="725.5" r="11.25" fill="#ff4614" stroke="#000" stroke-width="1.0"/>
<circle cx="344.0" cy="749.7" r="11.25" fill="#b81c10" stroke="#000" stroke-width="1.0"/>
<rect x="119.0" y="622.2" width="267.5" height="285.6" fill="none" stroke="#000" stroke-width="5.8"/>
<g stroke="#000" stroke-width="2">
<line x1="169.93" y1="619.20" x2="170.76" y2="613.50"/>
<line x1="222.34" y1="619.20" x2="222.98" y2="613.50"/>
<line x1="275.26" y1="619.20" x2="275.75" y2="613.50"/>
<line x1="327.47" y1="619.20" x2="327.80" y2="613.50"/>
<line x1="379.08" y1="619.20" x2="379.24" y2="613.50"/>
<line x1="389.50" y1="684.90" x2="395.20" y2="684.90"/>
<line x1="389.50" y1="781.00" x2="395.20" y2="781.00"/>
<line x1="389.50" y1="876.80" x2="395.20" y2="876.80"/>
</g>
<g transform="translate(184.64,603.76) rotate(-81.79)" font-size="34.5"><text x="-1.8" y="2.8" transform="scale(1.03,1)">&#8722;</text><g transform="scale(1,1.04)"><text x="20.8" y="0">10&#176;</text><rect x="23.33" y="-3.58" width="6.00" height="4.28" fill="#fff"/><rect x="32.67" y="-3.58" width="5.88" height="4.28" fill="#fff"/></g></g>
<g transform="translate(236.55,603.38) rotate(-83.57)" font-size="34.5"><text x="-1.8" y="2.8" transform="scale(1.03,1)">&#8722;</text><g transform="scale(1,1.04)"><text x="20.8" y="0">8&#176;</text></g></g>
<g transform="translate(289.04,603.06) rotate(-85.10)" font-size="34.5"><text x="-1.8" y="2.8" transform="scale(1.03,1)">&#8722;</text><g transform="scale(1,1.04)"><text x="20.8" y="0">6&#176;</text></g></g>
<g transform="translate(340.80,602.71) rotate(-86.69)" font-size="34.5"><text x="-1.8" y="2.8" transform="scale(1.03,1)">&#8722;</text><g transform="scale(1,1.04)"><text x="20.8" y="0">4&#176;</text></g></g>
<g transform="translate(391.91,602.35) rotate(-88.40)" font-size="34.5"><text x="-1.8" y="2.8" transform="scale(1.03,1)">&#8722;</text><g transform="scale(1,1.04)"><text x="20.8" y="0">2&#176;</text></g></g>
<text transform="translate(405.6,698.9) scale(1,1.05)" font-size="35.2">56&#176;</text>
<text transform="translate(405.6,795.0) scale(1,1.05)" font-size="35.2">54&#176;</text>
<text transform="translate(405.6,891.0) scale(1,1.05)" font-size="35.2">52&#176;</text>
</g>
<g transform="translate(99.30,28.20) scale(1.0000,1.0600)"><text font-size="35.30" text-anchor="end" fill="#000" style="font-kerning:none" >0</text></g>
<g transform="translate(99.30,127.40) scale(1.0000,1.0600)"><text font-size="35.30" text-anchor="end" fill="#000" style="font-kerning:none" >20</text></g>
<g transform="translate(99.30,226.60) scale(1.0000,1.0600)"><text font-size="35.30" text-anchor="end" fill="#000" style="font-kerning:none" >40</text></g>
<g transform="translate(99.30,325.80) scale(1.0000,1.0600)"><text font-size="35.30" text-anchor="end" fill="#000" style="font-kerning:none" >60</text></g>
<g transform="translate(99.30,425.00) scale(1.0000,1.0600)"><text font-size="35.30" text-anchor="end" fill="#000" style="font-kerning:none" >80</text></g>
<g transform="translate(99.30,524.20) scale(1.0000,1.0600)"><text font-size="35.30" text-anchor="end" fill="#000" style="font-kerning:none" >100</text><rect x="-56.31" y="-3.64" width="6.14" height="4.34" fill="#fff"/><rect x="-46.75" y="-3.64" width="6.02" height="4.34" fill="#fff"/></g>
<g transform="translate(99.30,623.40) scale(1.0000,1.0600)"><text font-size="35.30" text-anchor="end" fill="#000" style="font-kerning:none" >120</text><rect x="-56.31" y="-3.64" width="6.14" height="4.34" fill="#fff"/><rect x="-46.75" y="-3.64" width="6.02" height="4.34" fill="#fff"/></g>
<g transform="translate(99.30,722.60) scale(1.0000,1.0600)"><text font-size="35.30" text-anchor="end" fill="#000" style="font-kerning:none" >140</text><rect x="-56.31" y="-3.64" width="6.14" height="4.34" fill="#fff"/><rect x="-46.75" y="-3.64" width="6.02" height="4.34" fill="#fff"/></g>
<g transform="translate(99.30,821.80) scale(1.0000,1.0600)"><text font-size="35.30" text-anchor="end" fill="#000" style="font-kerning:none" >160</text><rect x="-56.31" y="-3.64" width="6.14" height="4.34" fill="#fff"/><rect x="-46.75" y="-3.64" width="6.02" height="4.34" fill="#fff"/></g>
<g transform="translate(99.30,921.00) scale(1.0000,1.0600)"><text font-size="35.30" text-anchor="end" fill="#000" style="font-kerning:none" >180</text><rect x="-56.31" y="-3.64" width="6.14" height="4.34" fill="#fff"/><rect x="-46.75" y="-3.64" width="6.02" height="4.34" fill="#fff"/></g>
<g transform="translate(119.00,953.00) scale(1.0000,1.0600)"><text font-size="35.30" text-anchor="middle" fill="#000" style="font-kerning:none" >0</text></g>
<g transform="translate(236.00,953.00) scale(1.0000,1.0600)"><text font-size="35.30" text-anchor="middle" fill="#000" style="font-kerning:none" >400</text></g>
<g transform="translate(353.00,953.00) scale(1.0000,1.0600)"><text font-size="35.30" text-anchor="middle" fill="#000" style="font-kerning:none" >800</text></g>
<g transform="translate(470.00,953.00) scale(1.0000,1.0600)"><text font-size="35.30" text-anchor="middle" fill="#000" style="font-kerning:none" >1200</text><rect x="-36.68" y="-3.64" width="6.14" height="4.34" fill="#fff"/><rect x="-27.12" y="-3.64" width="6.02" height="4.34" fill="#fff"/></g>
<g transform="translate(713.00,953.00) scale(1.0000,1.0600)"><text font-size="35.30" text-anchor="middle" fill="#000" style="font-kerning:none" >3.9</text></g>
<g transform="translate(805.00,953.00) scale(1.0000,1.0600)"><text font-size="35.30" text-anchor="middle" fill="#000" style="font-kerning:none" >4.2</text></g>
<g transform="translate(897.00,953.00) scale(1.0000,1.0600)"><text font-size="35.30" text-anchor="middle" fill="#000" style="font-kerning:none" >4.5</text></g>
<g transform="translate(352.00,990.50) scale(1.0000,1.0500)"><text font-size="35.90" text-anchor="middle" fill="#000" style="font-kerning:none" >Temperature (°C)</text></g>
<g transform="translate(804.50,990.80) scale(1.0000,1.0500)"><text font-size="35.40" text-anchor="middle" fill="#000" style="font-kerning:none" >Shear velocity (km/s)</text></g>
<text transform="translate(29.3,461.2) rotate(-90) scale(1,1.05)" font-size="35.5" text-anchor="middle">Depth (km)</text>
<g transform="translate(232.30,55.20) scale(1.0300,1.0000)"><text font-size="38.50" text-anchor="middle" fill="#000" style="font-kerning:none" font-weight="bold">(a)</text></g>
<g transform="translate(952.60,55.20) scale(1.0300,1.0000)"><text font-size="38.50" text-anchor="middle" fill="#000" style="font-kerning:none" font-weight="bold">(b)</text></g>
<g transform="translate(520.00,70.90) scale(1.0000,1.0300)"><text font-size="35.30" text-anchor="end" fill="#000" style="font-kerning:none" >No uplift</text></g>
<g transform="translate(522.00,115.30) scale(1.0000,1.0300)"><text font-size="35.30" text-anchor="end" fill="#000" style="font-kerning:none" >Uplifted</text></g>
<g transform="translate(520.50,176.50) scale(1.0000,1.0000)"><text font-size="27.70" text-anchor="end" fill="#000" style="font-kerning:none" >Katsura, 2022</text></g>
<line x1="528.4" y1="55.0" x2="558.0" y2="55.0" stroke="#539dff" stroke-width="5.2"/>
<line x1="528.4" y1="64.9" x2="558.0" y2="64.9" stroke="#1a00ff" stroke-width="5.2"/>
<line x1="528.4" y1="99.4" x2="558.0" y2="99.4" stroke="#b81c10" stroke-width="5.2"/>
<line x1="528.4" y1="109.5" x2="558.0" y2="109.5" stroke="#ff4614" stroke-width="5.2"/>
<line x1="639" y1="872" x2="689.6" y2="872" stroke="#000" stroke-width="1.9" stroke-dasharray="9.6 4.05"/>
<g transform="translate(700.00,884.40) scale(1.0000,1.0000)"><text font-size="30.70" text-anchor="start" fill="#000" style="font-kerning:none" >AK135</text><rect x="43.20" y="-3.29" width="5.32" height="3.99" fill="#fff"/><rect x="51.54" y="-3.29" width="5.23" height="3.99" fill="#fff"/></g>
</svg>
</body></html>
